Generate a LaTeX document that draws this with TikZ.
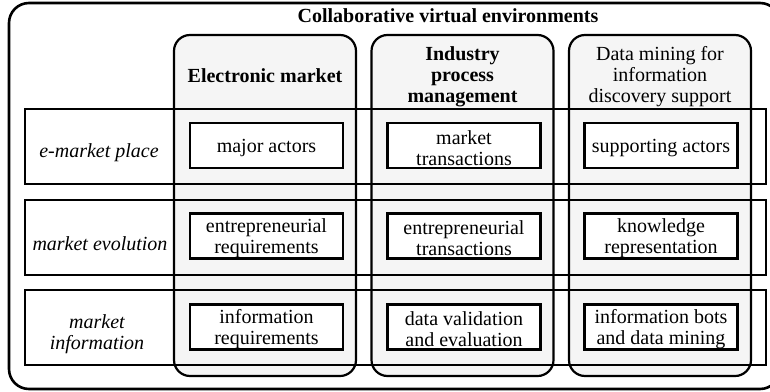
\documentclass[tikz,border=0pt]{standalone}
\usepackage{fontspec}
\setmainfont{Liberation Serif}
\usetikzlibrary{positioning}
\definecolor{colfill}{RGB}{245,245,245}
\newcommand{\cellfont}{\fontsize{10pt}{10.5pt}\selectfont}
% tall strut on the first line, so the text sits a little low in its box
\newcommand{\topstrut}{\rule{0pt}{9.4pt}}
\tikzset{
  framebox/.style={draw, line width=1.3pt, rounded corners=10pt,
    minimum width=385.5pt, minimum height=193pt},
  colbox/.style={draw, line width=1.1pt, fill=colfill, rounded corners=8pt,
    minimum width=91pt, minimum height=170.5pt},
  rowbox/.style={draw, line width=1pt, minimum width=370.5pt, minimum height=37.5pt},
  cellbox/.style={draw, line width=1.4pt, fill=white, minimum width=76.5pt,
    minimum height=22.5pt, inner xsep=1pt, inner ysep=0pt, align=center,
    font=\cellfont},
  colhead/.style={align=center, inner sep=0pt, font=\cellfont},
  rowlabel/.style={align=center, inner sep=0pt, font=\cellfont\itshape},
}

\begin{document}
\begin{tikzpicture}[x=0.5pt, y=-0.5pt]
  \useasboundingbox (0,0) rectangle (770,391);

  % outer frame and title
  \node[framebox] (frame) at (394.5,196) {};
  \node[colhead, font=\cellfont\bfseries] (title) at (448,16)
    {Collaborative virtual environments};

  % the three columns
  \node[colbox] (c1) at (265,205.5) {};
  \node[colbox] (c2) at (462.5,205.5) {};
  \node[colbox] (c3) at (660,205.5) {};
  \node[colhead, font=\cellfont\bfseries] (h1) at (265,76) {Electronic market};
  \node[colhead, font=\cellfont\bfseries] (h2) at (462.5,77)
    {Industry\\process\\management};
  \node[colhead] (h3) at (660,77) {Data mining for\\information\\discovery support};

  % the three rows, drawn over the columns
  \node[rowbox] (r1) at (395.5,146.5) {};
  \node[rowbox] (r2) at (395.5,237.5) {};
  \node[rowbox] (r3) at (395.5,327) {};
  \node[rowlabel] (l1) at (99,153) {e-market place};
  \node[rowlabel] (l2) at (100,244) {market evolution};
  \node[rowlabel] (l3) at (97,334) {market\\information};

  % cells
  \node[cellbox] (m11) at (266.5,145.5) {\topstrut major actors};
  \node[cellbox] (m12) at (464,145.5) {\topstrut market\\transactions};
  \node[cellbox] (m13) at (661,145.5) {\topstrut supporting actors};
  \node[cellbox] (m21) at (266.5,236) {\topstrut entrepreneurial\\requirements};
  \node[cellbox] (m22) at (464,236) {\topstrut entrepreneurial\\transactions};
  \node[cellbox] (m23) at (661,236) {\topstrut knowledge\\representation};
  \node[cellbox] (m31) at (266.5,327) {\topstrut information\\requirements};
  \node[cellbox] (m32) at (464,327) {\topstrut data validation\\and evaluation};
  \node[cellbox] (m33) at (661,327) {\topstrut information bots\\and data mining};
\end{tikzpicture}
\end{document}
